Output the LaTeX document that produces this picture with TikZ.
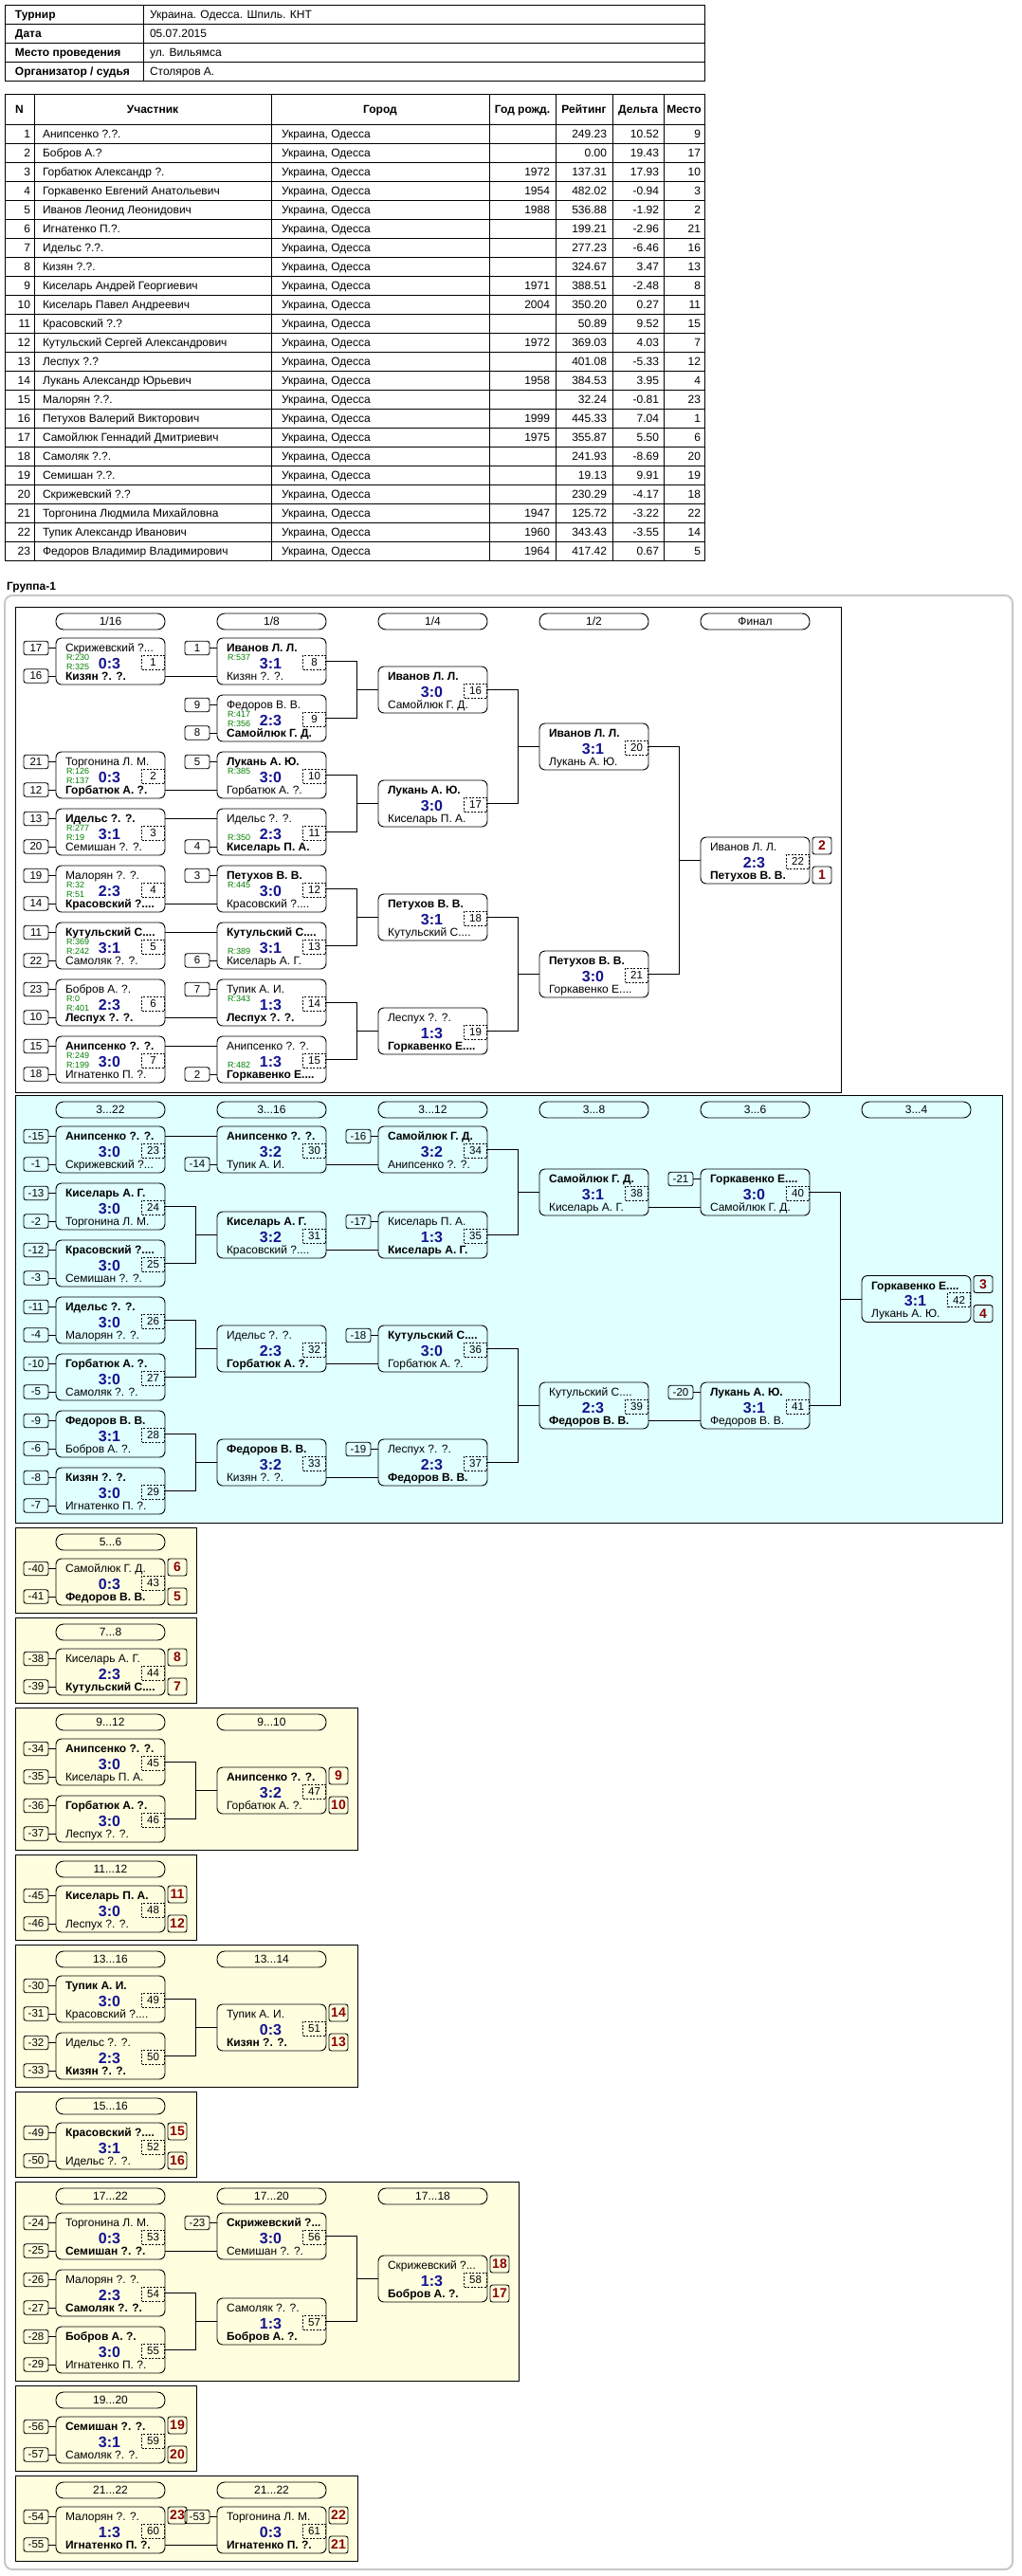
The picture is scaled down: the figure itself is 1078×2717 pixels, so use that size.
\documentclass[tikz,border=0pt]{standalone}
\usepackage{fontspec}
\setmainfont{Liberation Sans}
\usetikzlibrary{calc}
\definecolor{cyanbg}{HTML}{E0FFFF}
\definecolor{ybg}{HTML}{FFFFE0}
\definecolor{rgreen}{HTML}{008000}
\definecolor{sblue}{HTML}{141490}
\definecolor{pred}{HTML}{8B0000}
\definecolor{frame}{HTML}{C8C8C8}
\tikzset{
 every node/.style={inner sep=0pt, outer sep=0pt},
 ln/.style={line width=0.9pt},
 mbx/.style={draw, line width=0.9pt, rounded corners=6pt, minimum width=115pt, minimum height=49pt, anchor=north west},
 nm/.style={font=\fontsize{12}{14}\selectfont, anchor=base west},
 rt/.style={font=\fontsize{9}{10}\selectfont, text=rgreen, anchor=base west},
 sc/.style={font=\fontsize{16}{18}\selectfont\bfseries, text=sblue},
 nb/.style={draw, dash pattern=on 2pt off 1.5pt, line width=0.8pt, minimum width=24pt, minimum height=15pt, font=\fontsize{11.5}{13}\selectfont},
 seed/.style={draw, rounded corners=2.5pt, line width=0.9pt, minimum width=26pt, minimum height=14.5pt, font=\fontsize{11.5}{13}\selectfont, anchor=east},
 plc/.style={draw, rounded corners=2.5pt, line width=0.9pt, minimum width=20pt, minimum height=18pt, font=\fontsize{14}{16}\selectfont\bfseries, text=pred},
 hdr/.style={draw, rounded corners=8pt, line width=0.9pt, minimum width=115pt, minimum height=17pt, anchor=north west, font=\fontsize{12}{14}\selectfont},
 tx/.style={font=\fontsize{12}{14}\selectfont},
 txb/.style={font=\fontsize{12}{14}\selectfont\bfseries},
 tl/.style={line width=0.9pt},
}
\newcommand{\bn}[1]{{\bfseries #1}}
\newcommand{\mt}[9]{%
 \node[mbx] (#1) at (#2,#3) {};
 \node[nm] (#1n1) at (#2+10,#3+14.7) {#5};
 \node[nm] (#1n2) at (#2+10,#3+44.3) {#6};
 \node[sc] (#1s) at (#2+56.5,#3+26.5) {#7};
 \node[nb] (#1k) at (#2+102.5,#3+25.5) {#4};
 \if\relax\detokenize{#8}\relax\else\node[rt] (#1r1) at (#2+11,#3+23.7) {#8};\fi
 \if\relax\detokenize{#9}\relax\else\node[rt] (#1r2) at (#2+11,#3+33.7) {#9};\fi
 \coordinate (#1a) at (#2,#3+10.5);
 \coordinate (#1b) at (#2,#3+40);
 \coordinate (#1c) at (#2+115,#3+10.5);
 \coordinate (#1d) at (#2+115,#3+40);
}
\newcommand{\sd}[3]{\node[seed] (#1) at ($(#2)+(-8,0)$) {#3}; \draw[ln] (#1.east) -- (#2);}
\newcommand{\plt}[3]{\node[plc, anchor=north west] (#1) at ($(#2.north east)+(3,0)$) {#3};}
\newcommand{\plb}[3]{\node[plc, anchor=south west] (#1) at ($(#2.south east)+(3,0)$) {#3};}
\newcommand{\elb}[3]{\draw[ln] (#1.east) -- ++(32.5,0) |- (#3.west); \draw[ln] (#2.east) -- ++(32.5,0) |- (#3.west);}
\newcommand{\hd}[4]{\node[hdr] (#1) at (#2,#3) {#4};}
\begin{document}
\begin{tikzpicture}[x=1pt,y=-1pt]
\useasboundingbox (0,0) rectangle (1078,2717);
\fill[white] (0,0) rectangle (1078,2717);
% ---------- header table
\draw[tl] (5,5) rectangle (743,85);
\foreach \yy in {25,45,65} \draw[tl] (5,\yy) -- (743,\yy);
\draw[tl] (151,5) -- (151,85);
\node[txb,anchor=base west] (hl1) at (16,19.2) {Турнир};
\node[txb,anchor=base west] (hl2) at (16,39.2) {Дата};
\node[txb,anchor=base west] (hl3) at (16,59.2) {Место проведения};
\node[txb,anchor=base west] (hl4) at (16,79.2) {Организатор / судья};
\node[tx,anchor=base west] (hv1) at (158,19.2) {Украина. Одесса. Шпиль. КНТ};
\node[tx,anchor=base west] (hv2) at (158,39.2) {05.07.2015};
\node[tx,anchor=base west] (hv3) at (158,59.2) {ул. Вильямса};
\node[tx,anchor=base west] (hv4) at (158,79.2) {Столяров А.};
% ---------- participants table
\draw[tl] (5,99) rectangle (743,591);
\foreach \k in {0,...,22} \draw[tl] (5,131+20*\k) -- (743,131+20*\k);
\foreach \xx in {36,286,516,586,646,700} \draw[tl] (\xx,99) -- (\xx,591);
\node[txb,anchor=base] (th1) at (20.5,119.2) {N};
\node[txb,anchor=base] (th2) at (161,119.2) {Участник};
\node[txb,anchor=base] (th3) at (401,119.2) {Город};
\node[txb,anchor=base] (th4) at (551,119.2) {Год рожд.};
\node[txb,anchor=base] (th5) at (616,119.2) {Рейтинг};
\node[txb,anchor=base] (th6) at (673,119.2) {Дельта};
\node[txb,anchor=base] (th7) at (721.5,119.2) {Место};
\foreach \nm/\rt/\dl/\pl [count=\i] in {
Анипсенко ?.?./249.23/10.52/9,
Бобров А.?/0.00/19.43/17,
Горбатюк Александр ?./137.31/17.93/10,
Горкавенко Евгений Анатольевич/482.02/-0.94/3,
Иванов Леонид Леонидович/536.88/-1.92/2,
Игнатенко П.?./199.21/-2.96/21,
Идельс ?.?./277.23/-6.46/16,
Кизян ?.?./324.67/3.47/13,
Киселарь Андрей Георгиевич/388.51/-2.48/8,
Киселарь Павел Андреевич/350.20/0.27/11,
Красовский ?.?/50.89/9.52/15,
Кутульский Сергей Александрович/369.03/4.03/7,
Леспух ?.?/401.08/-5.33/12,
Лукань Александр Юрьевич/384.53/3.95/4,
Малорян ?.?./32.24/-0.81/23,
Петухов Валерий Викторович/445.33/7.04/1,
Самойлюк Геннадий Дмитриевич/355.87/5.50/6,
Самоляк ?.?./241.93/-8.69/20,
Семишан ?.?./19.13/9.91/19,
Скрижевский ?.?/230.29/-4.17/18,
Торгонина Людмила Михайловна/125.72/-3.22/22,
Тупик Александр Иванович/343.43/-3.55/14,
Федоров Владимир Владимирович/417.42/0.67/5}{
 \pgfmathsetmacro\yy{145.2+20*(\i-1)}
 \node[tx,anchor=base east] (pn\i) at (32,\yy) {\i};
 \node[tx,anchor=base west] (pm\i) at (45,\yy) {\nm};
 \node[tx,anchor=base west] (pc\i) at (297,\yy) {Украина, Одесса};
 \node[tx,anchor=base east] (pr\i) at (640,\yy) {\rt};
 \node[tx,anchor=base east] (pd\i) at (695,\yy) {\dl};
 \node[tx,anchor=base east] (pp\i) at (739,\yy) {\pl};
}
\foreach \i/\yr in {3/1972,4/1954,5/1988,9/1971,10/2004,12/1972,14/1958,16/1999,17/1975,21/1947,22/1960,23/1964}{
 \pgfmathsetmacro\yy{145.2+20*(\i-1)}
 \node[tx,anchor=base east] (py\i) at (580,\yy) {\yr};
}
% ---------- group
\node[font=\fontsize{12}{14}\selectfont\bfseries, anchor=base west] (grp) at (7,622) {Группа-1};
\draw[frame, line width=2pt, rounded corners=8pt] (5,628) rectangle (1068,2710);
\draw[tl, fill=white] (16,640) rectangle (887,1152);
\draw[tl, fill=cyanbg] (16,1155) rectangle (1057,1606);
\draw[tl, fill=ybg] (16,1611) rectangle (207,1701);
\draw[tl, fill=ybg] (16,1706) rectangle (207,1796);
\draw[tl, fill=ybg] (16,1801) rectangle (377,1951);
\draw[tl, fill=ybg] (16,1956) rectangle (207,2046);
\draw[tl, fill=ybg] (16,2051) rectangle (377,2201);
\draw[tl, fill=ybg] (16,2206) rectangle (207,2296);
\draw[tl, fill=ybg] (16,2301) rectangle (547,2511);
\draw[tl, fill=ybg] (16,2516) rectangle (207,2606);
\draw[tl, fill=ybg] (16,2611) rectangle (377,2701);
% ---------- main bracket headers
\hd{h1}{59}{647}{1/16}\hd{h2}{229}{647}{1/8}\hd{h3}{399}{647}{1/4}\hd{h4}{569}{647}{1/2}\hd{h5}{739}{647}{Финал}
\mt{m1}{59}{673}{1}{Скрижевский ?...}{\bn{Кизян ?. ?.}}{0:3}{R:230}{R:325}
\mt{m2}{59}{793}{2}{Торгонина Л. М.}{\bn{Горбатюк А. ?.}}{0:3}{R:126}{R:137}
\mt{m3}{59}{853}{3}{\bn{Идельс ?. ?.}}{Семишан ?. ?.}{3:1}{R:277}{R:19}
\mt{m4}{59}{913}{4}{Малорян ?. ?.}{\bn{Красовский ?....}}{2:3}{R:32}{R:51}
\mt{m5}{59}{973}{5}{\bn{Кутульский С....}}{Самоляк ?. ?.}{3:1}{R:369}{R:242}
\mt{m6}{59}{1033}{6}{Бобров А. ?.}{\bn{Леспух ?. ?.}}{2:3}{R:0}{R:401}
\mt{m7}{59}{1093}{7}{\bn{Анипсенко ?. ?.}}{Игнатенко П. ?.}{3:0}{R:249}{R:199}
\sd{s1a}{m1a}{17}\sd{s1b}{m1b}{16}
\sd{s2a}{m2a}{21}\sd{s2b}{m2b}{12}
\sd{s3a}{m3a}{13}\sd{s3b}{m3b}{20}
\sd{s4a}{m4a}{19}\sd{s4b}{m4b}{14}
\sd{s5a}{m5a}{11}\sd{s5b}{m5b}{22}
\sd{s6a}{m6a}{23}\sd{s6b}{m6b}{10}
\sd{s7a}{m7a}{15}\sd{s7b}{m7b}{18}
\mt{m8}{229}{673}{8}{\bn{Иванов Л. Л.}}{Кизян ?. ?.}{3:1}{R:537}{}
\mt{m9}{229}{733}{9}{Федоров В. В.}{\bn{Самойлюк Г. Д.}}{2:3}{R:417}{R:356}
\mt{m10}{229}{793}{10}{\bn{Лукань А. Ю.}}{Горбатюк А. ?.}{3:0}{R:385}{}
\mt{m11}{229}{853}{11}{Идельс ?. ?.}{\bn{Киселарь П. А.}}{2:3}{}{R:350}
\mt{m12}{229}{913}{12}{\bn{Петухов В. В.}}{Красовский ?....}{3:0}{R:445}{}
\mt{m13}{229}{973}{13}{\bn{Кутульский С....}}{Киселарь А. Г.}{3:1}{}{R:389}
\mt{m14}{229}{1033}{14}{Тупик А. И.}{\bn{Леспух ?. ?.}}{1:3}{R:343}{}
\mt{m15}{229}{1093}{15}{Анипсенко ?. ?.}{\bn{Горкавенко Е....}}{1:3}{}{R:482}
\sd{s8a}{m8a}{1}\sd{s9a}{m9a}{9}\sd{s9b}{m9b}{8}\sd{s10a}{m10a}{5}\sd{s11b}{m11b}{4}
\sd{s12a}{m12a}{3}\sd{s13b}{m13b}{6}\sd{s14a}{m14a}{7}\sd{s15b}{m15b}{2}
\draw[ln] (m1d) -- (m8b); \draw[ln] (m2d) -- (m10b); \draw[ln] (m3c) -- (m11a);
\draw[ln] (m4d) -- (m12b); \draw[ln] (m5c) -- (m13a); \draw[ln] (m6d) -- (m14b);
\draw[ln] (m7c) -- (m15a);
\mt{m16}{399}{703}{16}{\bn{Иванов Л. Л.}}{Самойлюк Г. Д.}{3:0}{}{}
\mt{m17}{399}{823}{17}{\bn{Лукань А. Ю.}}{Киселарь П. А.}{3:0}{}{}
\mt{m18}{399}{943}{18}{\bn{Петухов В. В.}}{Кутульский С....}{3:1}{}{}
\mt{m19}{399}{1063}{19}{Леспух ?. ?.}{\bn{Горкавенко Е....}}{1:3}{}{}
\elb{m8}{m9}{m16}\elb{m10}{m11}{m17}\elb{m12}{m13}{m18}\elb{m14}{m15}{m19}
\mt{m20}{569}{763}{20}{\bn{Иванов Л. Л.}}{Лукань А. Ю.}{3:1}{}{}
\mt{m21}{569}{1003}{21}{\bn{Петухов В. В.}}{Горкавенко Е....}{3:0}{}{}
\elb{m16}{m17}{m20}\elb{m18}{m19}{m21}
\mt{m22}{739}{883}{22}{Иванов Л. Л.}{\bn{Петухов В. В.}}{2:3}{}{}
\elb{m20}{m21}{m22}
\plt{p22a}{m22}{2}\plb{p22b}{m22}{1}
% ---------- consolation
\hd{h6}{59}{1162}{3...22}\hd{h7}{229}{1162}{3...16}\hd{h8}{399}{1162}{3...12}
\hd{h9}{569}{1162}{3...8}\hd{h10}{739}{1162}{3...6}\hd{h11}{909}{1162}{3...4}
\mt{m23}{59}{1188}{23}{\bn{Анипсенко ?. ?.}}{Скрижевский ?...}{3:0}{}{}
\mt{m24}{59}{1248}{24}{\bn{Киселарь А. Г.}}{Торгонина Л. М.}{3:0}{}{}
\mt{m25}{59}{1308}{25}{\bn{Красовский ?....}}{Семишан ?. ?.}{3:0}{}{}
\mt{m26}{59}{1368}{26}{\bn{Идельс ?. ?.}}{Малорян ?. ?.}{3:0}{}{}
\mt{m27}{59}{1428}{27}{\bn{Горбатюк А. ?.}}{Самоляк ?. ?.}{3:0}{}{}
\mt{m28}{59}{1488}{28}{\bn{Федоров В. В.}}{Бобров А. ?.}{3:1}{}{}
\mt{m29}{59}{1548}{29}{\bn{Кизян ?. ?.}}{Игнатенко П. ?.}{3:0}{}{}
\sd{s23a}{m23a}{-15}\sd{s23b}{m23b}{-1}
\sd{s24a}{m24a}{-13}\sd{s24b}{m24b}{-2}
\sd{s25a}{m25a}{-12}\sd{s25b}{m25b}{-3}
\sd{s26a}{m26a}{-11}\sd{s26b}{m26b}{-4}
\sd{s27a}{m27a}{-10}\sd{s27b}{m27b}{-5}
\sd{s28a}{m28a}{-9}\sd{s28b}{m28b}{-6}
\sd{s29a}{m29a}{-8}\sd{s29b}{m29b}{-7}
\mt{m30}{229}{1188}{30}{\bn{Анипсенко ?. ?.}}{Тупик А. И.}{3:2}{}{}
\mt{m31}{229}{1278}{31}{\bn{Киселарь А. Г.}}{Красовский ?....}{3:2}{}{}
\mt{m32}{229}{1398}{32}{Идельс ?. ?.}{\bn{Горбатюк А. ?.}}{2:3}{}{}
\mt{m33}{229}{1518}{33}{\bn{Федоров В. В.}}{Кизян ?. ?.}{3:2}{}{}
\sd{s30b}{m30b}{-14}
\draw[ln] (m23c) -- (m30a);
\elb{m24}{m25}{m31}\elb{m26}{m27}{m32}\elb{m28}{m29}{m33}
\mt{m34}{399}{1188}{34}{\bn{Самойлюк Г. Д.}}{Анипсенко ?. ?.}{3:2}{}{}
\mt{m35}{399}{1278}{35}{Киселарь П. А.}{\bn{Киселарь А. Г.}}{1:3}{}{}
\mt{m36}{399}{1398}{36}{\bn{Кутульский С....}}{Горбатюк А. ?.}{3:0}{}{}
\mt{m37}{399}{1518}{37}{Леспух ?. ?.}{\bn{Федоров В. В.}}{2:3}{}{}
\sd{s34a}{m34a}{-16}\sd{s35a}{m35a}{-17}\sd{s36a}{m36a}{-18}\sd{s37a}{m37a}{-19}
\draw[ln] (m30d) -- (m34b); \draw[ln] (m31d) -- (m35b);
\draw[ln] (m32d) -- (m36b); \draw[ln] (m33d) -- (m37b);
\mt{m38}{569}{1233}{38}{\bn{Самойлюк Г. Д.}}{Киселарь А. Г.}{3:1}{}{}
\mt{m39}{569}{1458}{39}{Кутульский С....}{\bn{Федоров В. В.}}{2:3}{}{}
\elb{m34}{m35}{m38}\elb{m36}{m37}{m39}
\mt{m40}{739}{1233}{40}{\bn{Горкавенко Е....}}{Самойлюк Г. Д.}{3:0}{}{}
\mt{m41}{739}{1458}{41}{\bn{Лукань А. Ю.}}{Федоров В. В.}{3:1}{}{}
\sd{s40a}{m40a}{-21}\sd{s41a}{m41a}{-20}
\draw[ln] (m38d) -- (m40b); \draw[ln] (m39d) -- (m41b);
\mt{m42}{909}{1345.5}{42}{\bn{Горкавенко Е....}}{Лукань А. Ю.}{3:1}{}{}
\elb{m40}{m41}{m42}
\plt{p42a}{m42}{3}\plb{p42b}{m42}{4}
% ---------- 5..6
\hd{h12}{59}{1618}{5...6}
\mt{m43}{59}{1644}{43}{Самойлюк Г. Д.}{\bn{Федоров В. В.}}{0:3}{}{}
\sd{s43a}{m43a}{-40}\sd{s43b}{m43b}{-41}
\plt{p43a}{m43}{6}\plb{p43b}{m43}{5}
% ---------- 7..8
\hd{h13}{59}{1713}{7...8}
\mt{m44}{59}{1739}{44}{Киселарь А. Г.}{\bn{Кутульский С....}}{2:3}{}{}
\sd{s44a}{m44a}{-38}\sd{s44b}{m44b}{-39}
\plt{p44a}{m44}{8}\plb{p44b}{m44}{7}
% ---------- 9..12
\hd{h14}{59}{1808}{9...12}\hd{h15}{229}{1808}{9...10}
\mt{m45}{59}{1834}{45}{\bn{Анипсенко ?. ?.}}{Киселарь П. А.}{3:0}{}{}
\mt{m46}{59}{1894}{46}{\bn{Горбатюк А. ?.}}{Леспух ?. ?.}{3:0}{}{}
\sd{s45a}{m45a}{-34}\sd{s45b}{m45b}{-35}\sd{s46a}{m46a}{-36}\sd{s46b}{m46b}{-37}
\mt{m47}{229}{1864}{47}{\bn{Анипсенко ?. ?.}}{Горбатюк А. ?.}{3:2}{}{}
\elb{m45}{m46}{m47}
\plt{p47a}{m47}{9}\plb{p47b}{m47}{10}
% ---------- 11..12
\hd{h16}{59}{1963}{11...12}
\mt{m48}{59}{1989}{48}{\bn{Киселарь П. А.}}{Леспух ?. ?.}{3:0}{}{}
\sd{s48a}{m48a}{-45}\sd{s48b}{m48b}{-46}
\plt{p48a}{m48}{11}\plb{p48b}{m48}{12}
% ---------- 13..16
\hd{h17}{59}{2058}{13...16}\hd{h18}{229}{2058}{13...14}
\mt{m49}{59}{2084}{49}{\bn{Тупик А. И.}}{Красовский ?....}{3:0}{}{}
\mt{m50}{59}{2144}{50}{Идельс ?. ?.}{\bn{Кизян ?. ?.}}{2:3}{}{}
\sd{s49a}{m49a}{-30}\sd{s49b}{m49b}{-31}\sd{s50a}{m50a}{-32}\sd{s50b}{m50b}{-33}
\mt{m51}{229}{2114}{51}{Тупик А. И.}{\bn{Кизян ?. ?.}}{0:3}{}{}
\elb{m49}{m50}{m51}
\plt{p51a}{m51}{14}\plb{p51b}{m51}{13}
% ---------- 15..16
\hd{h19}{59}{2213}{15...16}
\mt{m52}{59}{2239}{52}{\bn{Красовский ?....}}{Идельс ?. ?.}{3:1}{}{}
\sd{s52a}{m52a}{-49}\sd{s52b}{m52b}{-50}
\plt{p52a}{m52}{15}\plb{p52b}{m52}{16}
% ---------- 17..22
\hd{h20}{59}{2308}{17...22}\hd{h21}{229}{2308}{17...20}\hd{h22}{399}{2308}{17...18}
\mt{m53}{59}{2334}{53}{Торгонина Л. М.}{\bn{Семишан ?. ?.}}{0:3}{}{}
\mt{m54}{59}{2394}{54}{Малорян ?. ?.}{\bn{Самоляк ?. ?.}}{2:3}{}{}
\mt{m55}{59}{2454}{55}{\bn{Бобров А. ?.}}{Игнатенко П. ?.}{3:0}{}{}
\sd{s53a}{m53a}{-24}\sd{s53b}{m53b}{-25}\sd{s54a}{m54a}{-26}\sd{s54b}{m54b}{-27}
\sd{s55a}{m55a}{-28}\sd{s55b}{m55b}{-29}
\mt{m56}{229}{2334}{56}{\bn{Скрижевский ?...}}{Семишан ?. ?.}{3:0}{}{}
\mt{m57}{229}{2424}{57}{Самоляк ?. ?.}{\bn{Бобров А. ?.}}{1:3}{}{}
\sd{s56a}{m56a}{-23}
\draw[ln] (m53d) -- (m56b);
\elb{m54}{m55}{m57}
\mt{m58}{399}{2379}{58}{Скрижевский ?...}{\bn{Бобров А. ?.}}{1:3}{}{}
\elb{m56}{m57}{m58}
\plt{p58a}{m58}{18}\plb{p58b}{m58}{17}
% ---------- 19..20
\hd{h23}{59}{2523}{19...20}
\mt{m59}{59}{2549}{59}{\bn{Семишан ?. ?.}}{Самоляк ?. ?.}{3:1}{}{}
\sd{s59a}{m59a}{-56}\sd{s59b}{m59b}{-57}
\plt{p59a}{m59}{19}\plb{p59b}{m59}{20}
% ---------- 21..22
\hd{h24}{59}{2618}{21...22}\hd{h25}{229}{2618}{21...22}
\mt{m60}{59}{2644}{60}{Малорян ?. ?.}{\bn{Игнатенко П. ?.}}{1:3}{}{}
\sd{s60a}{m60a}{-54}\sd{s60b}{m60b}{-55}
\plt{p60a}{m60}{23}
\mt{m61}{229}{2644}{61}{Торгонина Л. М.}{\bn{Игнатенко П. ?.}}{0:3}{}{}
\sd{s61a}{m61a}{-53}
\draw[ln] (m60d) -- (m61b);
\plt{p61a}{m61}{22}\plb{p61b}{m61}{21}
\end{tikzpicture}
\end{document}
